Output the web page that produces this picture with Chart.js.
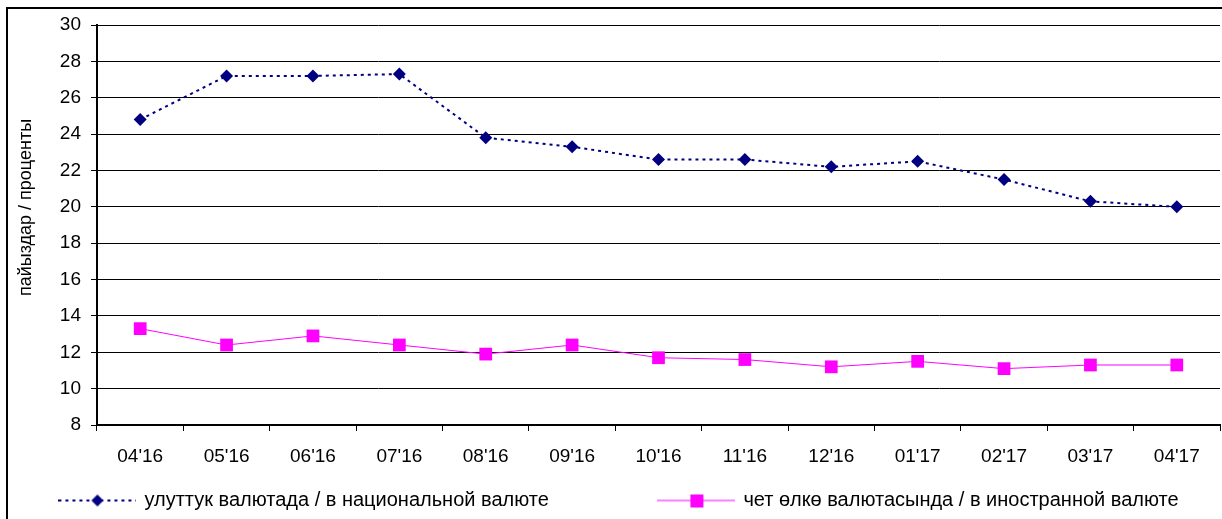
<!DOCTYPE html>
<html>
<head>
<meta charset="utf-8">
<script src="https://cdn.jsdelivr.net/npm/chart.js@4/dist/chart.umd.min.js"></script>
<style>
  html, body { margin: 0; padding: 0; background: #fff; overflow: hidden; }
  #frame { position: absolute; left: 6px; top: 7px; width: 1300px; height: 600px; border: 2px solid #000; }
  #wrap { position: absolute; left: 0; top: 0; width: 1222px; height: 519px; }
</style>
</head>
<body>
<div id="frame"></div>
<div id="wrap"><canvas id="grafik"></canvas></div>
<script>
const months = ["04'16", "05'16", "06'16", "07'16", "08'16", "09'16", "10'16", "11'16", "12'16", "01'17", "02'17", "03'17", "04'17"];
const nationalRate = [24.8, 27.2, 27.2, 27.3, 23.8, 23.3, 22.6, 22.6, 22.2, 22.5, 21.5, 20.3, 20.0];
const foreignRate = [13.3, 12.4, 12.9, 12.4, 11.9, 12.4, 11.7, 11.6, 11.2, 11.5, 11.1, 11.3, 11.3];
const yTicks = [8, 10, 12, 14, 16, 18, 20, 22, 24, 26, 28, 30];

const navy = "#000080";
const pink = "#FF00FF";
const font = "'Liberation Sans', Arial, sans-serif";

// small pictures for the legend: line with marker in the middle
function legendMark(kind) {
  const c = document.createElement("canvas");
  c.width = 78;
  c.height = 16;
  const g = c.getContext("2d");
  g.beginPath();
  g.moveTo(0, 8);
  g.lineTo(78, 8);
  if (kind === "diamond") {
    g.strokeStyle = navy;
    g.lineWidth = 2;
    g.setLineDash([3, 4]);
  } else {
    g.strokeStyle = pink;
    g.lineWidth = 1;
  }
  g.stroke();
  g.setLineDash([]);
  if (kind === "diamond") {
    g.fillStyle = navy;
    g.beginPath();
    g.moveTo(39, 2);
    g.lineTo(45, 8);
    g.lineTo(39, 14);
    g.lineTo(33, 8);
    g.closePath();
    g.fill();
  } else {
    g.fillStyle = pink;
    g.fillRect(33, 2, 13, 13);
  }
  return c;
}

const grafik = document.getElementById("grafik");

new Chart(grafik, {
  type: "line",
  data: {
    labels: months,
    datasets: [
      {
        label: "улуттук валютада / в национальной валюте",
        data: nationalRate,
        borderColor: navy,
        backgroundColor: navy,
        borderWidth: 2,
        borderDash: [3, 4],
        pointStyle: "rectRot",
        pointRadius: 6.5,
        pointBorderWidth: 0,
        tension: 0,
      },
      {
        label: "чет өлкө валютасында / в иностранной валюте",
        data: foreignRate,
        borderColor: pink,
        backgroundColor: pink,
        borderWidth: 1,
        pointStyle: "rect",
        pointRadius: 9,
        pointBorderWidth: 0,
        tension: 0,
      },
    ],
  },
  options: {
    responsive: true,
    maintainAspectRatio: false,
    animation: false,
    layout: {
      autoPadding: false,
      padding: { top: 25, right: 2, left: 19, bottom: -1.5 },
    },
    plugins: {
      tooltip: { enabled: false },
      legend: {
        position: "bottom",
        labels: {
          color: "#000",
          font: { family: font, size: 20 },
          usePointStyle: true,
          pointStyleWidth: 74,
          padding: 5,
          generateLabels: function (chart) {
            return chart.data.datasets.map(function (ds, i) {
              return {
                text: i === 0 ? ds.label + "                   " : ds.label,
                fillStyle: ds.backgroundColor,
                strokeStyle: ds.borderColor,
                lineWidth: 0,
                pointStyle: legendMark(i === 0 ? "diamond" : "square"),
                hidden: false,
                datasetIndex: i,
              };
            });
          },
        },
      },
    },
    scales: {
      x: {
        offset: true,
        grid: {
          offset: true,
          drawOnChartArea: false,
          drawTicks: true,
          tickLength: 6,
          color: "#000",
        },
        border: { display: true, color: "#000", width: 2 },
        ticks: {
          color: "#000",
          font: { family: font, size: 19 },
          padding: 14,
          maxRotation: 0,
          autoSkip: false,
        },
        afterFit: function (scale) {
          scale.height = 60.5;
          scale.paddingLeft = 0;
          scale.paddingRight = 0;
        },
      },
      y: {
        min: 8,
        max: 30,
        afterBuildTicks: function (scale) {
          scale.ticks = yTicks.map(function (v) { return { value: v }; });
        },
        grid: { color: "#000", lineWidth: 1, tickLength: 6 },
        border: { display: true, color: "#000", width: 2 },
        ticks: {
          color: "#000",
          font: { family: font, size: 19 },
          padding: 10,
        },
        title: {
          display: true,
          // leading spaces lift the centred title a little, as in the original
          text: "       пайыздар / проценты",
          color: "#000",
          font: { family: font, size: 18 },
          padding: { top: -4, bottom: 0 },
        },
        afterFit: function (scale) {
          scale.width = 78;
        },
      },
    },
  },
});
</script>
</body>
</html>
